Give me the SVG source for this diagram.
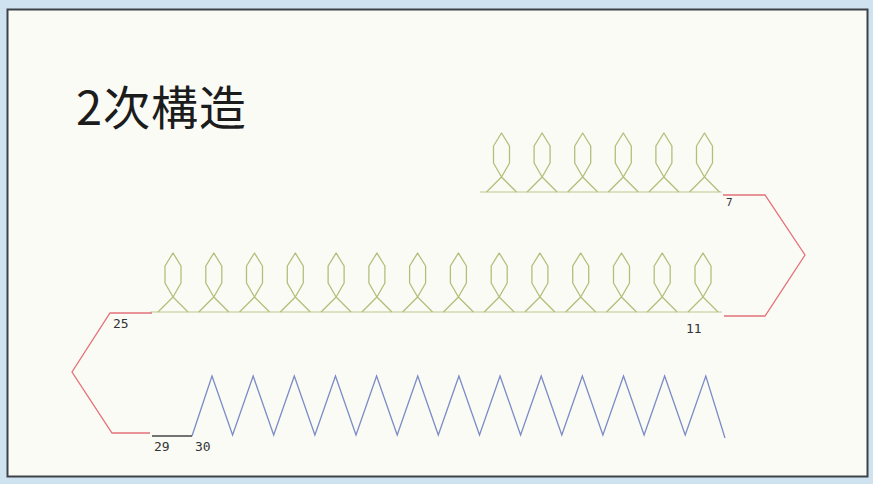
<svg xmlns="http://www.w3.org/2000/svg" xmlns:xlink="http://www.w3.org/1999/xlink" width="873" height="484" viewBox="0 0 873 484">
<style>
.helix{fill:none;stroke:#b2bf7a;stroke-width:1.3;stroke-linejoin:round}
.base{fill:none;stroke:#bcc78c;stroke-width:1.2}
.loop{fill:none;stroke:#e2727a;stroke-width:1.3}
.blue{fill:none;stroke:#7b8cc6;stroke-width:1.3}
.dark{fill:none;stroke:#444;stroke-width:1.3}
.lbl{font-family:"DejaVu Sans Mono","Liberation Mono",monospace;fill:#333}
.title{font-family:"Noto Sans CJK JP","Noto Sans",sans-serif;font-size:47px;font-weight:400;fill:#1c1c1c;letter-spacing:1px}
</style>
<defs>
<path id="hx" class="helix" d="M-15,0 L0,-15 L8,-29 L8,-46 L0,-59 L-8,-46 L-8,-29 L0,-15 L15,0"/>
</defs>
<rect x="0" y="0" width="873" height="484" fill="#cfe2ef"/>
<rect x="7.5" y="9.5" width="860" height="467" fill="#fbfbf6" stroke="#3d4248" stroke-width="2"/>
<g id="title"><text class="title" x="76" y="125">2次構造</text></g>
<g id="strand-top">
<line class="base" x1="480" y1="192" x2="722" y2="192"/>
<use xlink:href="#hx" x="501.5" y="192"/>
<use xlink:href="#hx" x="542.1" y="192"/>
<use xlink:href="#hx" x="582.7" y="192"/>
<use xlink:href="#hx" x="623.3" y="192"/>
<use xlink:href="#hx" x="663.9" y="192"/>
<use xlink:href="#hx" x="704.5" y="192"/>
</g>
<g id="strand-middle">
<line class="base" x1="150" y1="312" x2="722" y2="312"/>
<use xlink:href="#hx" x="173" y="312"/>
<use xlink:href="#hx" x="213.8" y="312"/>
<use xlink:href="#hx" x="254.5" y="312"/>
<use xlink:href="#hx" x="295.3" y="312"/>
<use xlink:href="#hx" x="336.1" y="312"/>
<use xlink:href="#hx" x="376.9" y="312"/>
<use xlink:href="#hx" x="417.6" y="312"/>
<use xlink:href="#hx" x="458.4" y="312"/>
<use xlink:href="#hx" x="499.2" y="312"/>
<use xlink:href="#hx" x="539.9" y="312"/>
<use xlink:href="#hx" x="580.7" y="312"/>
<use xlink:href="#hx" x="621.5" y="312"/>
<use xlink:href="#hx" x="662.2" y="312"/>
<use xlink:href="#hx" x="703" y="312"/>
</g>
<g id="strand-bottom">
<path class="blue" d="M192,436 L212,376 L232.6,435 L253.15,376 L273.7,435 L294.3,376 L314.9,435 L335.45,376 L356,435 L376.6,376 L397.2,435 L417.75,376 L438.3,435 L458.9,376 L479.5,435 L500.05,376 L520.6,435 L541.2,376 L561.8,435 L582.35,376 L602.9,435 L623.5,376 L644.1,435 L664.65,376 L685.2,435 L705.8,376 L725,438"/>
</g>
<g id="connectors">
<path class="loop" d="M723,195 L765,195 L805,255 L765,316 L724,316"/>
<path class="loop" d="M152,313 L110,313 L72,372 L112,433 L150,433"/>
<line class="dark" x1="152" y1="436" x2="192" y2="436"/>
</g>
<g id="labels">
<text class="lbl" x="726" y="206" font-size="11">7</text>
<text class="lbl" x="686" y="333" font-size="13">11</text>
<text class="lbl" x="113" y="328" font-size="13">25</text>
<text class="lbl" x="154" y="451" font-size="13">29</text>
<text class="lbl" x="195" y="451" font-size="13">30</text>
</g>
</svg>
